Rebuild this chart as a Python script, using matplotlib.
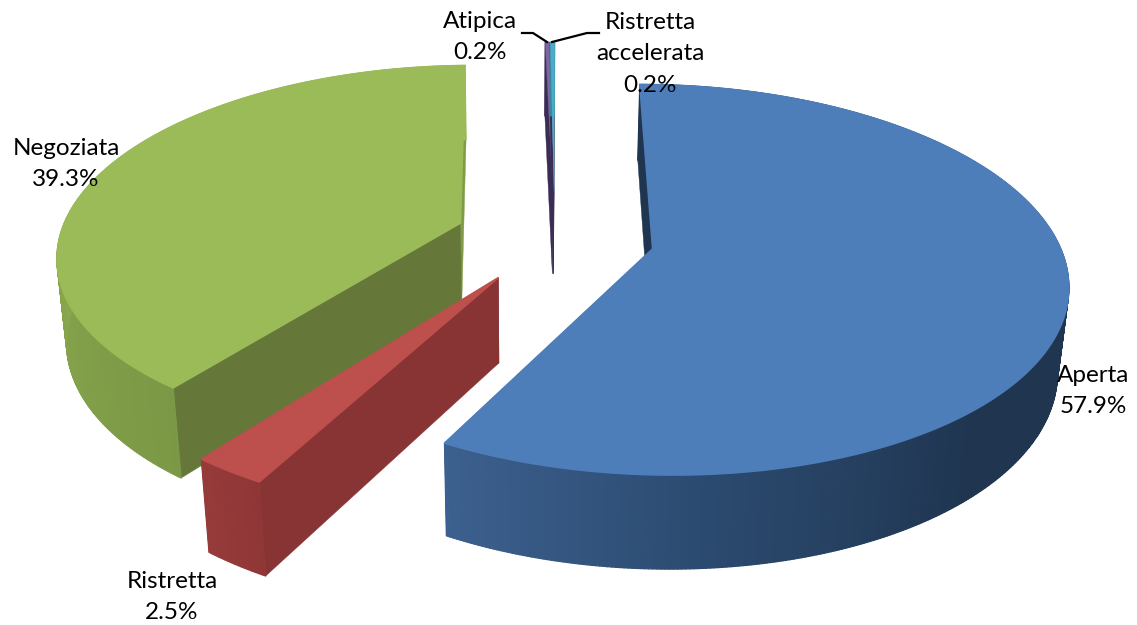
import numpy as np
import matplotlib
matplotlib.use("Agg")
import matplotlib.pyplot as plt
from matplotlib.collections import PolyCollection
from matplotlib.colors import to_rgb

categories = ["Aperta", "Ristretta", "Negoziata", "Atipica", "Ristretta\naccelerata"]
shares = [57.9, 2.5, 39.3, 0.2, 0.2]
pct_labels = ["57.9%", "2.5%", "39.3%", "0.2%", "0.2%"]

# camera for the 3d pie (unit radius, base at z = -1), calibrated on the outline
CAMERA = np.array([
    [400.756, 87.676, -10.792, 554.523],
    [-0.337, -149.357, -90.031, 237.273],
    [-0.003069, 0.156896, -0.020531, 1.0],
])
EXPLODE = 0.2489

top_colors = ["#4e7eba", "#bd4f4d", "#9bbb59", "#8064a2", "#4bacc6"]
start_wall = ["#1f3550", "#883435", "#66773a", "#3a2d55", "#3a2d55"]
end_wall = ["#1f3550", "#883435", "#7f9c45", "#3a2d55", "#3a2d55"]
# rim shade along the angle (degrees, colour)
rim_stops = [
    [(0, "#1f3550"), (138, "#1f3550"), (175, "#2b4a6f"), (209, "#3d6190")],
    [(208, "#8f3636"), (218, "#983c3b")],
    [(217, "#7b9846"), (272, "#8aa84d"), (360, "#9bbb59")],
    [(0, "#3a2d55"), (360, "#3a2d55")],
    [(0, "#3a8aa0"), (360, "#3a8aa0")],
]

label_pos = [(1093, 391), (172, 597), (66, 164), (480, 37), (650, 54)]
leaders = [[(522, 33), (533, 33), (547, 42)], [(599, 33), (587, 33), (552, 42)]]

values = np.array(shares)
sweep = values / values.sum() * 360
ends = np.cumsum(sweep)
starts = ends - sweep
mids = (starts + ends) / 2


def project(x, y, z):
    pts = np.stack([x, y, z, np.ones_like(x)])
    q = CAMERA @ pts
    return np.column_stack([q[0] / q[2], q[1] / q[2]])


def rim_color(stops, ang):
    angs = [s[0] for s in stops]
    rgb = np.array([to_rgb(s[1]) for s in stops])
    return [np.interp(ang, angs, rgb[:, k]) for k in range(3)]


def draw_slice(ax, i):
    m = np.radians(mids[i])
    ox, oy = EXPLODE * np.sin(m), EXPLODE * np.cos(m)
    t = np.radians(np.linspace(starts[i], ends[i], max(int(sweep[i] * 2), 2) + 1))
    x = ox + np.sin(t)
    y = oy + np.cos(t)
    up = project(x, y, np.zeros_like(x))
    down = project(x, y, -np.ones_like(x))
    ap_up = project(np.array([ox]), np.array([oy]), np.array([0.0]))
    ap_down = project(np.array([ox]), np.array([oy]), np.array([-1.0]))

    for k, col in ((-1, end_wall[i]), (0, start_wall[i])):
        quad = np.vstack([ap_up, up[k], down[k], ap_down])
        ax.fill(quad[:, 0], quad[:, 1], color=col, lw=0.3)
    quads = [np.vstack([up[k], up[k + 1], down[k + 1], down[k]]) for k in range(len(t) - 1)]
    cols = [rim_color(rim_stops[i], np.degrees(t[k])) for k in range(len(t) - 1)]
    ax.add_collection(PolyCollection(quads, facecolors=cols, edgecolors=cols, linewidths=0.9))
    face = np.vstack([ap_up, up])
    ax.fill(face[:, 0], face[:, 1], color=top_colors[i], lw=1.2 if sweep[i] > 5 else 0.2)


fig = plt.figure(figsize=(11.37, 6.25), dpi=100)
ax = fig.add_axes([0, 0, 1, 1])
ax.set_xlim(0, 1137)
ax.set_ylim(625, 0)
ax.axis("off")

for i in [3, 4, 2, 1, 0]:
    draw_slice(ax, i)

for i, name in enumerate(categories):
    ax.text(label_pos[i][0], label_pos[i][1], name + "\n" + pct_labels[i], ha="center", va="center",
            fontsize=17.5, family="Lato", linespacing=1.62, color="black")
for pts in leaders:
    ax.plot([p[0] for p in pts], [p[1] for p in pts], color="black", lw=1.6)

fig.savefig("out.png", dpi=100)
